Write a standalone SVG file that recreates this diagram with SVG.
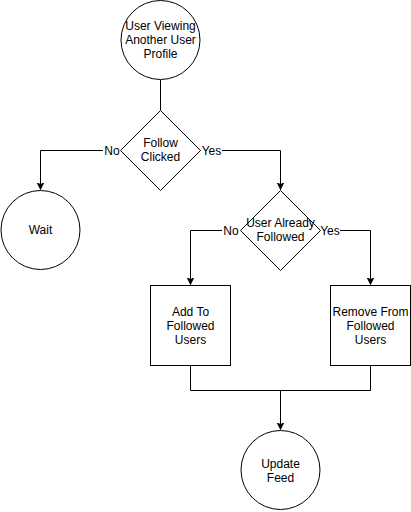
<svg xmlns="http://www.w3.org/2000/svg" width="411" height="512" viewBox="0 0 411 512">
  <defs>
    <style>
      .shape { fill: #ffffff; stroke: #000000; stroke-width: 1; }
      .edge { fill: none; stroke: #000000; stroke-width: 1; }
      .label { font-family: "Liberation Sans", Arial, sans-serif; font-size: 12px; fill: #000000; text-anchor: middle; }
      .lbg { fill: #ffffff; }
    </style>
    <marker id="arrow" viewBox="0 0 10 10" refX="10" refY="5" markerWidth="7" markerHeight="7" markerUnits="userSpaceOnUse" orient="auto">
      <path d="M0,0 L10,5 L0,10 L3,5 Z" fill="#000000" stroke="#000000" stroke-width="1"/>
    </marker>
  </defs>
  <rect width="411" height="512" fill="#ffffff"/>

  <!-- connectors -->
  <g id="connectors">
    <path class="edge" d="M160.5,80 L160.5,110"/>
    <path class="edge" d="M120,150.5 L40.5,150.5 L40.5,189.5" marker-end="url(#arrow)"/>
    <path class="edge" d="M200,150.5 L280.5,150.5 L280.5,189.5" marker-end="url(#arrow)"/>
    <path class="edge" d="M240,230.5 L190.5,230.5 L190.5,284.5" marker-end="url(#arrow)"/>
    <path class="edge" d="M320,230.5 L370.5,230.5 L370.5,284.5" marker-end="url(#arrow)"/>
    <path class="edge" d="M190.5,365 L190.5,390.5 L370.5,390.5 L370.5,365"/>
    <path class="edge" d="M280.5,390.5 L280.5,429.5" marker-end="url(#arrow)"/>

    <rect class="lbg" x="103" y="144" width="18" height="14"/>
    <text class="label" x="112" y="155">No</text>
    <rect class="lbg" x="201" y="144" width="21" height="14"/>
    <text class="label" x="211.5" y="155">Yes</text>
    <rect class="lbg" x="222" y="224" width="18" height="14"/>
    <text class="label" x="231" y="235">No</text>
    <rect class="lbg" x="320" y="224" width="20" height="14"/>
    <text class="label" x="330" y="235">Yes</text>
  </g>

  <!-- nodes -->
  <g id="start">
    <circle class="shape" cx="160.5" cy="40" r="39.5"/>
    <text class="label" x="160.5" y="30">User Viewing</text>
    <text class="label" x="160.5" y="44">Another User</text>
    <text class="label" x="160.5" y="58">Profile</text>
  </g>

  <g id="follow-clicked">
    <polygon class="shape" points="160.5,110.5 200.5,150.5 160.5,190.5 120.5,150.5"/>
    <text class="label" x="160.5" y="147">Follow</text>
    <text class="label" x="160.5" y="161">Clicked</text>
  </g>

  <g id="wait">
    <circle class="shape" cx="40.5" cy="230" r="39.5"/>
    <text class="label" x="40.5" y="234">Wait</text>
  </g>

  <g id="already-followed">
    <polygon class="shape" points="280.5,190.5 320.5,230.5 280.5,270.5 240.5,230.5"/>
    <text class="label" x="280.5" y="227">User Already</text>
    <text class="label" x="280.5" y="241">Followed</text>
  </g>

  <g id="add-followed">
    <rect class="shape" x="150.5" y="285.5" width="80" height="80"/>
    <text class="label" x="190.5" y="316">Add To</text>
    <text class="label" x="190.5" y="330">Followed</text>
    <text class="label" x="190.5" y="344">Users</text>
  </g>

  <g id="remove-followed">
    <rect class="shape" x="330.5" y="285.5" width="80" height="80"/>
    <text class="label" x="370.5" y="316">Remove From</text>
    <text class="label" x="370.5" y="330">Followed</text>
    <text class="label" x="370.5" y="344">Users</text>
  </g>

  <g id="update-feed">
    <circle class="shape" cx="280.5" cy="470" r="39.5"/>
    <text class="label" x="280.5" y="468">Update</text>
    <text class="label" x="280.5" y="482">Feed</text>
  </g>
</svg>
